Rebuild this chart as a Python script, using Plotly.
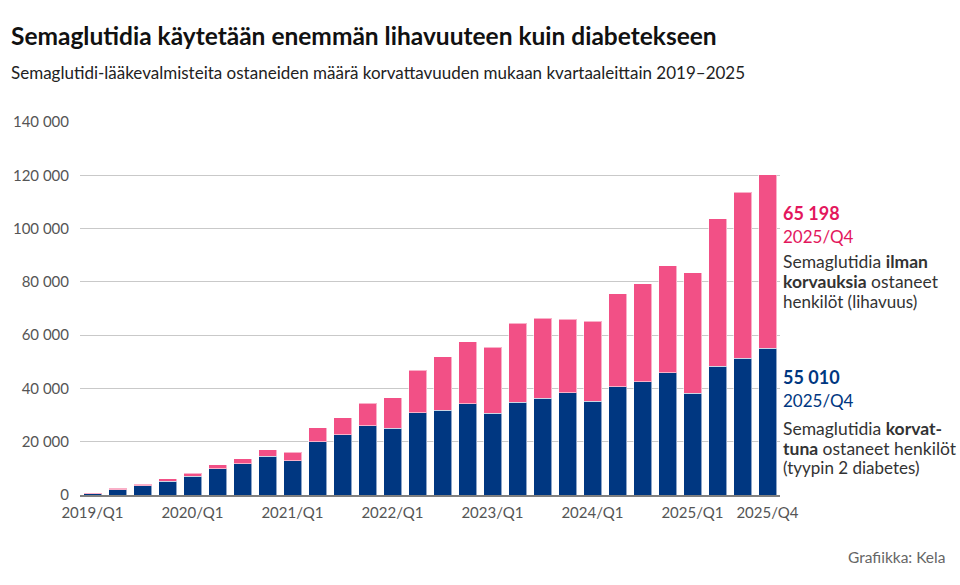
import plotly.graph_objects as go

quarters = [f"{y}/Q{q}" for y in range(2019, 2026) for q in range(1, 5)]
korvattu = [500, 2000, 3500, 5100, 7000, 9850, 11700, 14600, 12850, 19950,
            22600, 25950, 25100, 30800, 31800, 34300, 30600, 34900, 36400, 38400,
            35100, 40700, 42600, 45800, 38100, 48400, 51400, 55010]
ilman = [100, 500, 600, 1000, 1100, 1500, 1900, 2400, 3250, 5250,
         6350, 8500, 11350, 16000, 20000, 23300, 24900, 29600, 29850, 27600,
         30150, 34900, 36750, 40300, 45250, 55300, 62150, 65198]
x_ticks = ["2019/Q1", "2020/Q1", "2021/Q1", "2022/Q1", "2023/Q1", "2024/Q1", "2025/Q1", "2025/Q4"]
y_ticks = [0, 20000, 40000, 60000, 80000, 100000, 120000, 140000]
y_labels = ["0", "20 000", "40 000", "60 000", "80 000", "100 000", "120 000", "140 000"]

BLUE = "#003781"
PINK = "#f25086"
PINK_TXT = "#e3175d"
FONT = "Lato"

fig = go.Figure()
fig.add_bar(x=quarters, y=korvattu, marker=dict(color=BLUE, line=dict(color="rgba(255,255,255,0.55)", width=1)),
            name="korvattu")
fig.add_bar(x=quarters, y=ilman, marker=dict(color=PINK, line=dict(color="rgba(255,255,255,0.55)", width=1)),
            name="ilman")

fig.update_layout(
    barmode="stack", bargap=0.28,
    width=960, height=585,
    margin=dict(l=80, r=180, t=122, b=90),
    plot_bgcolor="white", paper_bgcolor="white",
    showlegend=False,
    font=dict(family=FONT, size=15, color="#555555"),
    xaxis=dict(type="category", tickmode="array", tickvals=x_ticks, ticktext=x_ticks,
               showgrid=False, showline=True, linecolor="#7f7f7f", linewidth=2,
               ticks="", ticklabelstandoff=3, tickfont=dict(size=15, color="#555555")),
    yaxis=dict(range=[0, 140000], tickmode="array", tickvals=y_ticks, ticktext=y_labels,
               showgrid=True, gridcolor="#c9c9c9", gridwidth=1, zeroline=False,
               ticks="", ticklabelstandoff=10, tickfont=dict(size=15, color="#555555")),
)

def px(xp, yp):
    return (xp - 80) / 700, (585 - 90 - yp) / 373

def txt(xp, yp, text, size, color, anchor="left"):
    ax, ay = px(xp, yp)
    fig.add_annotation(xref="paper", yref="paper", x=ax, y=ay, xanchor=anchor, yanchor="middle",
                       text=text, showarrow=False, font=dict(family=FONT, size=size, color=color))

txt(9, 35, "<b>Semaglutidia käytetään enemmän lihavuuteen kuin diabetekseen</b>", 24.5, "#111111")
txt(9, 73, "Semaglutidi-lääkevalmisteita ostaneiden määrä korvattavuuden mukaan kvartaaleittain 2019–2025", 17, "#222222")

txt(781, 213, "<b>65 198</b>", 18, PINK_TXT)
txt(781, 236, "2025/Q4", 17, PINK_TXT)
txt(781, 261, "Semaglutidia <b>ilman</b>", 17.5, "#333333")
txt(781, 281, "<b>korvauksia</b> ostaneet", 17.5, "#333333")
txt(781, 301, "henkilöt (lihavuus)", 17, "#333333")

txt(781, 377, "<b>55 010</b>", 18, BLUE)
txt(781, 400, "2025/Q4", 17, BLUE)
txt(781, 428, "Semaglutidia <b>korvat-</b>", 17.5, "#333333")
txt(781, 448, "<b>tuna</b> ostaneet henkilöt", 17.5, "#333333")
txt(781, 467, "(tyypin 2 diabetes)", 17, "#333333")

txt(947, 557, "Grafiikka: Kela", 15.5, "#666666", anchor="right")

fig.write_html("out.html", config={"displayModeBar": False},
               post_script="document.body.style.margin='0px';document.body.style.padding='0px';")
